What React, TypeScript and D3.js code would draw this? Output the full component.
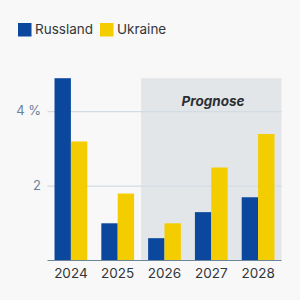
import React, { useEffect, useRef } from "react";
import * as d3 from "d3";

const years = ["2024", "2025", "2026", "2027", "2028"];
const russland = [4.9, 1.0, 0.6, 1.3, 1.7];
const ukraine = [3.2, 1.8, 1.0, 2.5, 3.4];
const seriesNames = ["Russland", "Ukraine"];
const seriesColors = ["#0a479d", "#f3cd00"];
const yTicks = [2, 4];
const forecastFrom = "2026";

const App = () => {
  const ref = useRef<SVGSVGElement>(null);

  useEffect(() => {
    const width = 300;
    const height = 300;
    const svg = d3.select(ref.current).attr("width", width).attr("height", height);
    svg.selectAll("*").remove();

    const font = "Inter, 'Noto Sans', sans-serif";
    const left = 47.5;
    const right = 281.5;
    const bottom = 260.5;

    svg.append("rect").attr("width", width).attr("height", height).attr("fill", "#f8f8f8");

    const x = d3.scaleBand().domain(years).range([left, right]).paddingInner(0.3).paddingOuter(0.15);
    const xs = d3.scaleBand().domain(seriesNames).range([0, x.bandwidth()]);
    const y = d3.scaleLinear().domain([0, 5]).range([bottom, bottom - 5 * 37.2]);

    // forecast area behind the bars
    const maxVal = d3.max([...russland, ...ukraine]) as number;
    const shadeX = (x(forecastFrom) as number) - (x.step() - x.bandwidth()) / 2;
    svg.append("rect")
      .attr("x", shadeX).attr("y", y(maxVal))
      .attr("width", right - shadeX).attr("height", bottom - y(maxVal))
      .attr("fill", "#e3e6e9");

    svg.append("text").text("Prognose")
      .attr("x", 213).attr("y", 102)
      .attr("text-anchor", "middle").attr("dominant-baseline", "middle")
      .attr("font-family", font).attr("font-size", 13.5)
      .attr("font-weight", 700).attr("font-style", "italic")
      .attr("fill", "#2b2f33");

    // gridlines and y labels
    svg.selectAll(".grid").data(yTicks).join("line").attr("class", "grid")
      .attr("x1", left).attr("x2", right)
      .attr("y1", d => y(d)).attr("y2", d => y(d))
      .attr("stroke", "#d3dbe3").attr("stroke-width", 1.2);

    svg.selectAll(".ylab").data(yTicks).join("text").attr("class", "ylab")
      .text((d, i) => (i === yTicks.length - 1 ? `${d} %` : `${d}`))
      .attr("x", 41).attr("y", d => y(d))
      .attr("text-anchor", "end").attr("dominant-baseline", "middle")
      .attr("font-family", font).attr("font-size", 13)
      .attr("fill", "#6a8298");

    const rows = years.map((yr, i) => ({ yr, vals: [russland[i], ukraine[i]] }));
    const groups = svg.selectAll(".grp").data(rows).join("g").attr("class", "grp")
      .attr("transform", d => `translate(${x(d.yr)},0)`);
    groups.selectAll("rect").data(d => d.vals.map((v, k) => ({ v, k })))
      .join("rect")
      .attr("x", d => xs(seriesNames[d.k]) as number)
      .attr("y", d => y(d.v))
      .attr("width", xs.bandwidth())
      .attr("height", d => bottom - y(d.v))
      .attr("fill", d => seriesColors[d.k]);

    // baseline
    svg.append("line").attr("x1", left).attr("x2", right).attr("y1", bottom).attr("y2", bottom)
      .attr("stroke", "#6e8598").attr("stroke-width", 1.2);

    svg.selectAll(".xlab").data(years).join("text").attr("class", "xlab")
      .text(d => d)
      .attr("x", d => (x(d) as number) + x.bandwidth() / 2).attr("y", 274)
      .attr("text-anchor", "middle").attr("dominant-baseline", "middle")
      .attr("font-family", font).attr("font-size", 13.5)
      .attr("fill", "#333638");

    // legend
    const legend = svg.append("g");
    const legX = [18, 100];
    seriesNames.forEach((name, i) => {
      legend.append("rect").attr("x", legX[i]).attr("y", 23).attr("width", 13.5).attr("height", 13.5)
        .attr("fill", seriesColors[i]);
      legend.append("text").text(name)
        .attr("x", legX[i] + 17).attr("y", 30)
        .attr("dominant-baseline", "middle")
        .attr("font-family", font).attr("font-size", 13.5)
        .attr("fill", "#333638");
    });
  }, []);

  return <svg ref={ref} style={{ position: "absolute", top: 0, left: 0 }} />;
};

export default App;
